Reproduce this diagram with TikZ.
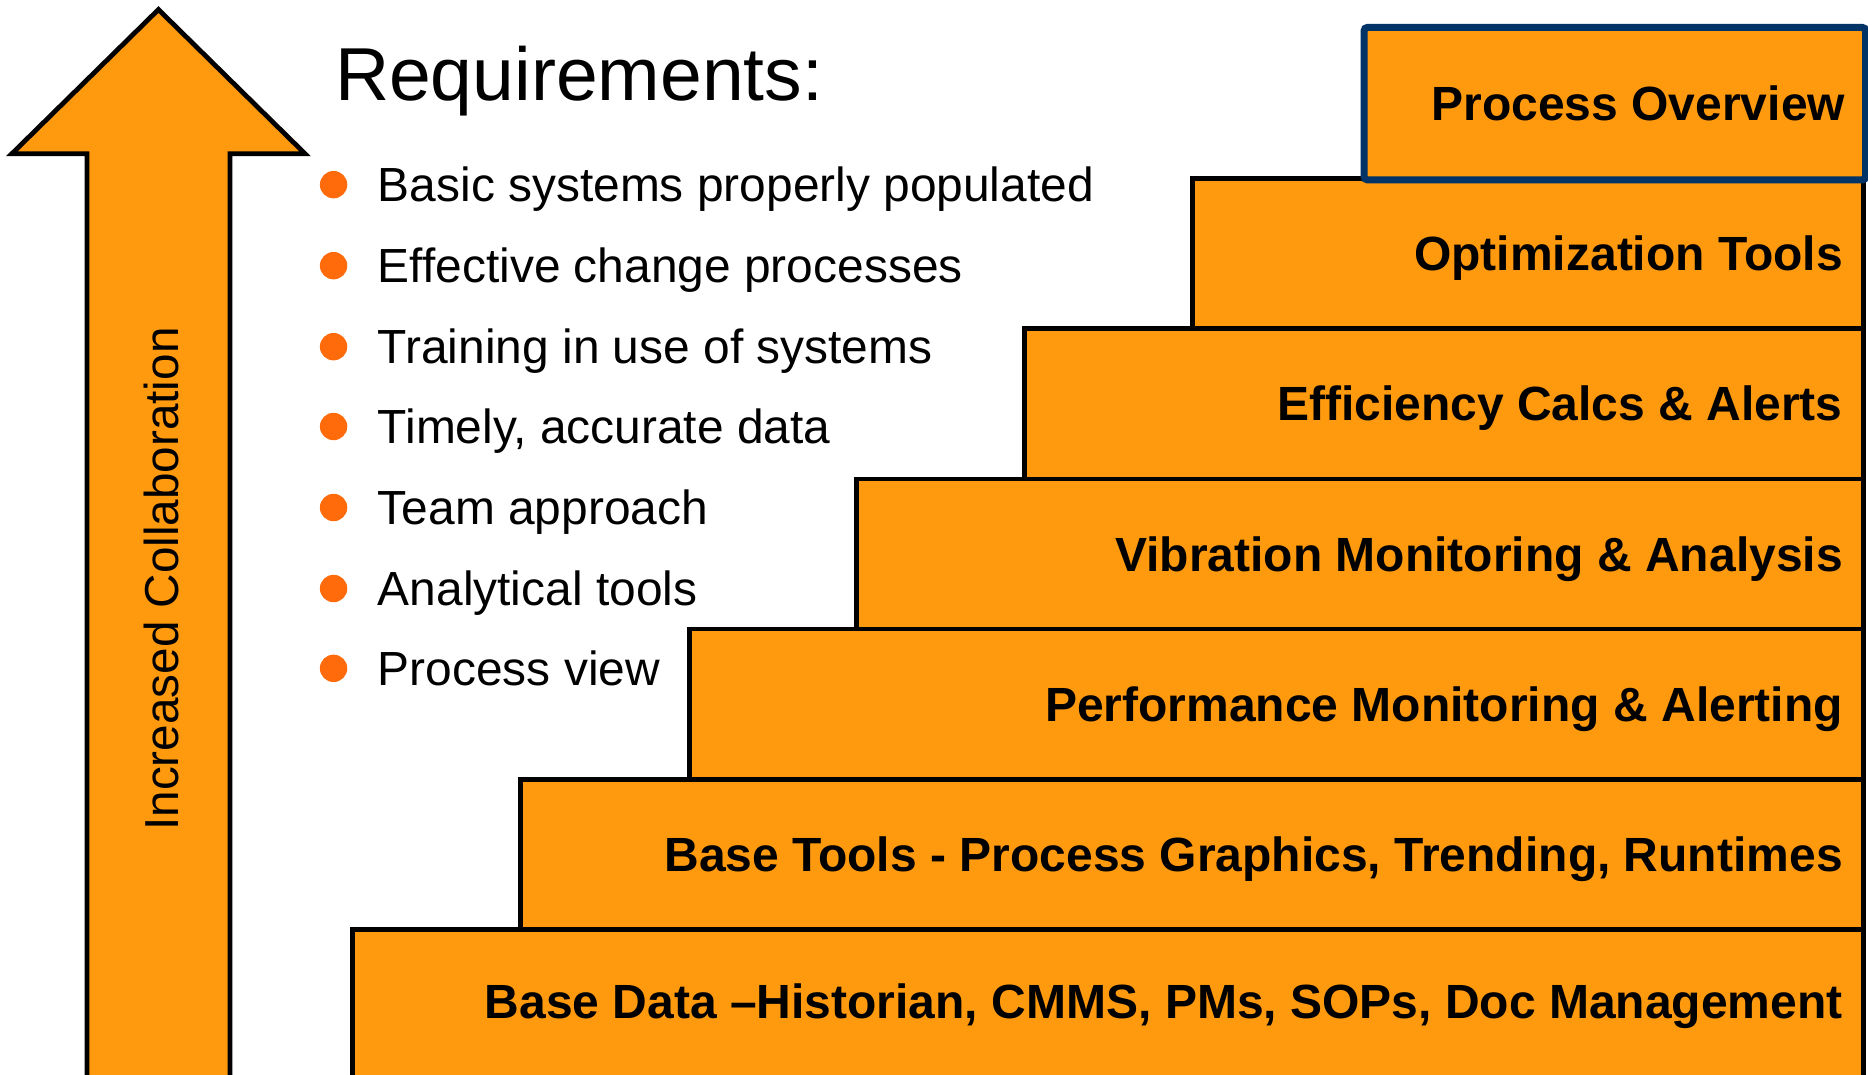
\documentclass[tikz,border=0pt]{standalone}
\usepackage{fontspec}
\setmainfont{Liberation Sans}
\definecolor{stepor}{HTML}{FF9A0E}
\definecolor{bulor}{HTML}{FF6A0A}
\definecolor{navyb}{HTML}{003366}
\begin{document}
\begin{tikzpicture}[x=1pt,y=-1pt,
  stepbox/.style={draw=black, line width=4pt, fill=stepor, inner sep=0pt, anchor=north west, minimum height=126pt},
  steplabel/.style={anchor=base east, inner sep=0pt, font=\fontsize{40.3}{48}\selectfont\bfseries},
  bullettext/.style={anchor=base west, inner sep=0pt, font=\fontsize{40.2}{48}\selectfont},
  bulletdot/.style={circle, fill=bulor, minimum size=23pt, inner sep=0pt},
  bigarrow/.style={draw=black, line width=4pt, fill=stepor, miter limit=10}]
\useasboundingbox (0,0) rectangle (1568,902);
\clip (0,0) rectangle (1568,902);
% arrow
\draw[bigarrow] (133,8) -- (256,129) -- (193,129) -- (193,930) -- (73,930) -- (73,129) -- (10,129) -- cycle;
\node[rotate=90, anchor=base, inner sep=0pt, font=\fontsize{40}{48}\selectfont] (collab) at (150,486) {Increased Collaboration};
% title
\node[anchor=base west, inner sep=0pt, font=\fontsize{63}{70}\selectfont] (title) at (281,84) {Requirements:};
% bullets
\foreach \i/\yy/\txt in {1/155/Basic systems properly populated,
                         2/223/Effective change processes,
                         3/291/Training in use of systems,
                         4/358/{Timely, accurate data},
                         5/426/Team approach,
                         6/494/Analytical tools,
                         7/561/Process view}{
  \node[bulletdot] (b\i) at (280,\yy) {};
  \node[bullettext] (t\i) at (317,\yy+14) {\txt};
}
% steps (bottom to top)
\node[stepbox, minimum width=1268pt] (s7) at (294,778) {};
\node[stepbox, minimum width=1127pt] (s6) at (435,652) {};
\node[stepbox, minimum width=985pt]  (s5) at (577,526) {};
\node[stepbox, minimum width=845pt]  (s4) at (717,400) {};
\node[stepbox, minimum width=704pt]  (s3) at (858,274) {};
\node[stepbox, minimum width=563pt]  (s2) at (999,148) {};
\node[stepbox, draw=navyb, line width=6pt, rounded corners=3pt, minimum width=421pt, minimum height=128pt] (s1) at (1142,20) {};
% labels
\node[steplabel] (l1) at ([xshift=-20pt,yshift=-14.3pt]s1.east) {Process Overview};
\node[steplabel] (l2) at ([xshift=-19pt,yshift=-14.3pt]s2.east) {Optimization Tools};
\node[steplabel] (l3) at ([xshift=-19pt,yshift=-14.3pt]s3.east) {Efficiency Calcs \& Alerts};
\node[steplabel] (l4) at ([xshift=-19pt,yshift=-14.3pt]s4.east) {Vibration Monitoring \& Analysis};
\node[steplabel] (l5) at ([xshift=-19pt,yshift=-14.3pt]s5.east) {Performance Monitoring \& Alerting};
\node[steplabel] (l6) at ([xshift=-19pt,yshift=-14.3pt]s6.east) {Base Tools - Process Graphics, Trending, Runtimes};
\node[steplabel] (l7) at ([xshift=-19pt,yshift=-14.3pt]s7.north east) [yshift=-63pt] {Base Data –Historian, CMMS, PMs, SOPs, Doc Management};
\end{tikzpicture}
\end{document}
